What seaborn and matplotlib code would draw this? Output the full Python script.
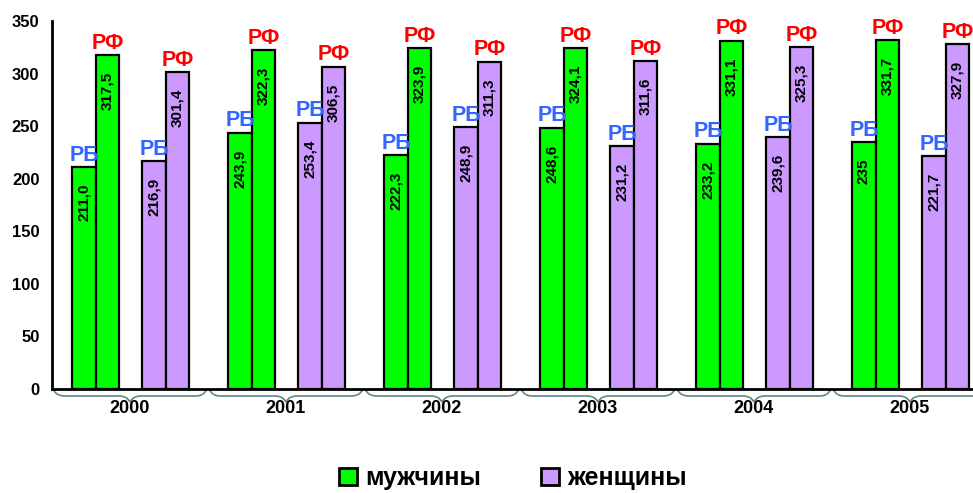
import pandas as pd
import matplotlib.pyplot as plt
import seaborn as sns
from matplotlib.path import Path
from matplotlib.patches import PathPatch, Patch

# data as printed on the chart (Russian decimal comma)
years = ['2000', '2001', '2002', '2003', '2004', '2005']
men_rb = ['211,0', '243,9', '222,3', '248,6', '233,2', '235']
men_rf = ['317,5', '322,3', '323,9', '324,1', '331,1', '331,7']
women_rb = ['216,9', '253,4', '248,9', '231,2', '239,6', '221,7']
women_rf = ['301,4', '306,5', '311,3', '311,6', '325,3', '327,9']

GREEN = '#00FF00'
PURPLE = '#CC99FF'
BLUE = '#3366FF'
RED = '#FF0000'

sns.set_style('white')
plt.rcParams['font.family'] = ['Liberation Sans', 'DejaVu Sans']
plt.rcParams['text.color'] = 'black'
plt.rcParams['xtick.color'] = 'black'
plt.rcParams['ytick.color'] = 'black'


def to_num(s):
    return float(s.replace(',', '.'))


rows = []
for i, y in enumerate(years):
    for sex, rb, rf, off in [('мужчины', men_rb, men_rf, 0.28), ('женщины', women_rb, women_rf, 0.73)]:
        rows.append({'pos': i + off, 'sex': sex, 'country': 'РБ', 'value': to_num(rb[i]), 'label': rb[i]})
        rows.append({'pos': i + off, 'sex': sex, 'country': 'РФ', 'value': to_num(rf[i]), 'label': rf[i]})
df = pd.DataFrame(rows)

fig = plt.figure(figsize=(9.73, 4.93), dpi=100)
ax = fig.add_axes([52 / 973, 104 / 493, 921 / 973, 368 / 493])

for sex, col in [('мужчины', GREEN), ('женщины', PURPLE)]:
    sub = df[df['sex'] == sex].reset_index(drop=True)
    n0 = len(ax.containers)
    sns.barplot(data=sub, x='pos', y='value', hue='country', hue_order=['РБ', 'РФ'],
                palette={'РБ': col, 'РФ': col}, native_scale=True, width=0.3,
                dodge=True, saturation=1, edgecolor='black', linewidth=1.6,
                legend=False, errorbar=None, ax=ax)
    for cont, country in zip(ax.containers[n0:], ['РБ', 'РФ']):
        labs = sub[sub['country'] == country]['label'].tolist()
        for bar, lab in zip(cont, labs):
            cx = bar.get_x() + bar.get_width() / 2
            h = bar.get_height()
            ax.annotate(lab, (cx, h), xytext=(0, -12), textcoords='offset points',
                        rotation=90, ha='center', va='top', fontsize=11,
                        fontweight='bold', color='black')
            ax.annotate(country, (cx, h), xytext=(0, 1), textcoords='offset points',
                        ha='center', va='bottom', fontsize=15.5, fontweight='bold',
                        color=BLUE if country == 'РБ' else RED)

ax.set_xlim(0, 921 / 156)
ax.set_ylim(0, 350)
ax.set_yticks(range(0, 351, 50))
ax.set_xticks(range(0, 6))
ax.set_xticklabels([])
ax.set_xticks([i + 0.5 for i in range(6)], minor=True)
ax.set_xticklabels(years, minor=True)
ax.tick_params(axis='x', which='major', direction='out', length=5, width=1.5, color='black')
ax.tick_params(axis='x', which='minor', length=0, pad=8, labelsize=13, labelcolor='black')
ax.tick_params(axis='y', direction='out', length=5, width=1.5, color='black',
               labelsize=12, pad=4, labelcolor='black')
for lab in ax.get_xticklabels(minor=True) + ax.get_yticklabels():
    lab.set_fontweight('bold')
ax.set_xlabel('')
ax.set_ylabel('')
ax.grid(False)
for s in ['top', 'right']:
    ax.spines[s].set_visible(False)
for s in ['left', 'bottom']:
    ax.spines[s].set_color('black')
    ax.spines[s].set_linewidth(2)

# curly braces under each year group
tr = ax.get_xaxis_transform()
px = 1 / 368
for i in range(6):
    a, b, m = i + 0.01, i + 0.99, i + 0.5
    verts = [(a, -1 * px), (a + 0.02, -7 * px), (a + 0.07, -7 * px),
             (m - 0.07, -7 * px),
             (m - 0.02, -7 * px), (m, -13 * px),
             (m + 0.02, -7 * px), (m + 0.07, -7 * px),
             (b - 0.07, -7 * px),
             (b - 0.02, -7 * px), (b, -1 * px)]
    codes = [Path.MOVETO, Path.CURVE3, Path.CURVE3, Path.LINETO,
             Path.CURVE3, Path.CURVE3, Path.CURVE3, Path.CURVE3,
             Path.LINETO, Path.CURVE3, Path.CURVE3]
    ax.add_patch(PathPatch(Path(verts, codes), transform=tr, fill=False,
                           edgecolor='#5F8585', lw=1.2, clip_on=False))

handles = [Patch(facecolor=GREEN, edgecolor='black', lw=2, label='мужчины'),
           Patch(facecolor=PURPLE, edgecolor='black', lw=2, label='женщины')]
fig.legend(handles=handles, loc='center', bbox_to_anchor=(513 / 973, 1 - 478 / 493), ncol=2,
           frameon=False, handlelength=0.7, handleheight=0.7, handletextpad=0.35,
           columnspacing=2.4, prop={'weight': 'bold', 'size': 18})

fig.savefig('out.png', dpi=100)
